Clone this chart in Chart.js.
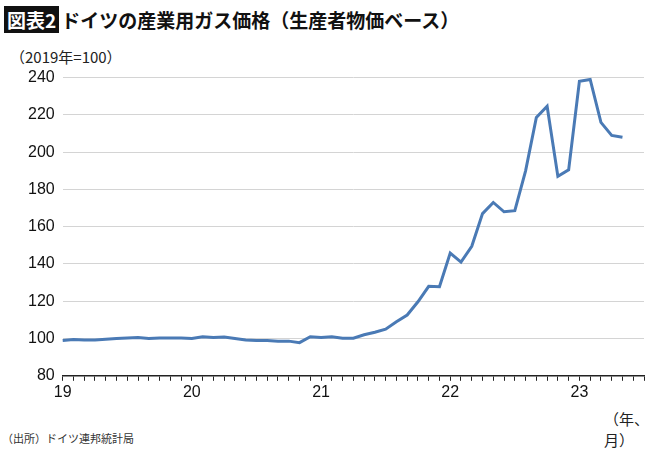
<!DOCTYPE html>
<html><head><meta charset="utf-8">
<script src="https://cdn.jsdelivr.net/npm/chart.js@4"></script>
<style>
body{margin:0;width:670px;height:450px;background:#fff;font-family:"Noto Sans CJK JP",sans-serif;position:relative;overflow:hidden}
#title{position:absolute;left:4px;top:6px;font-size:19px;font-weight:bold;color:#111;white-space:nowrap}
#title span{background:#111;color:#fff;padding:0 3px;margin-right:2px}
#unit{position:absolute;left:10px;top:46px;font-size:15px;color:#222}
#xunit{position:absolute;left:604px;top:408px;font-size:15px;color:#222}
#src{position:absolute;left:2px;top:430px;font-size:11px;color:#333}
#wrap{position:absolute;left:0;top:60px;width:660px;height:344px}
</style></head><body>
<div id="title"><span>図表2</span>ドイツの産業用ガス価格（生産者物価ベース）</div>
<div id="unit">（2019年=100）</div>
<div id="xunit">（年、月）</div>
<div id="src">（出所）ドイツ連邦統計局</div>
<div id="wrap"><canvas id="c"></canvas></div>
<script>
// monthly, Jan 2019 - May 2023
const y2019 = [99, 99.5, 99.2, 99.2, 99.6, 100, 100.3, 100.5, 100, 100.3, 100.3, 100.3];
const y2020 = [100, 100.9, 100.5, 100.8, 100, 99.2, 99, 99, 98.6, 98.6, 97.8, 101];
const y2021 = [100.6, 101, 100.2, 100.2, 102, 103.4, 105, 109, 112.6, 119.7, 128, 127.8];
const y2022 = [145.8, 141, 149.5, 167, 173, 168, 168.6, 190, 218.6, 224.6, 187, 190.5];
const y2023 = [238, 239, 216, 209, 208];
const yearLabels = ['19', '20', '21', '22', '23'];
const yTicks = [80, 100, 120, 140, 160, 180, 200, 220, 240];

const values = [...y2019, ...y2020, ...y2021, ...y2022, ...y2023];
const labels = [];
for (let i = 0; i < 55; i++) {
  labels.push(i % 12 === 0 ? yearLabels[i / 12] : '');
}

new Chart(document.getElementById('c'), {
  type: 'line',
  data: {
    labels: labels,
    datasets: [{
      data: values,
      borderColor: '#4a7ab5',
      borderWidth: 3,
      pointRadius: 0,
      tension: 0
    }]
  },
  options: {
    responsive: true,
    maintainAspectRatio: false,
    animation: false,
    layout: { padding: { left: 20, right: 16, top: 6, bottom: 0 } },
    plugins: { legend: { display: false }, tooltip: { enabled: false } },
    scales: {
      x: {
        offset: false,
        grid: { drawOnChartArea: false, tickLength: 5, color: '#222' },
        border: { color: '#222', width: 1.5 },
        ticks: { autoSkip: false, maxRotation: 0, color: '#111', font: { size: 16 }, padding: 2 }
      },
      y: {
        min: 80,
        max: 240,
        afterBuildTicks: (axis) => { axis.ticks = yTicks.map((v) => ({ value: v })); },
        grid: { color: '#d4d4d4', drawTicks: false },
        border: { display: false },
        ticks: { color: '#111', font: { size: 16 }, padding: 8 }
      }
    }
  }
});
</script>
</body></html>
